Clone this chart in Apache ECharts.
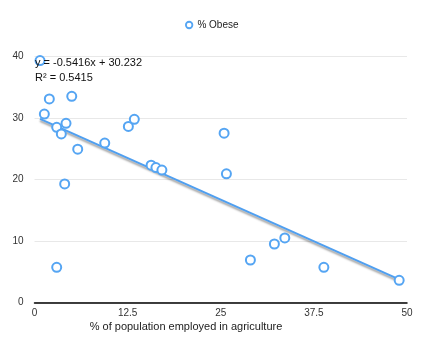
<!DOCTYPE html>
<html>
<head>
<meta charset="utf-8">
<script src="https://cdn.jsdelivr.net/npm/echarts@6/dist/echarts.min.js"></script>
<style>
html,body{margin:0;padding:0;background:#fff;}
#chart{width:429px;height:353px;}
</style>
</head>
<body>
<div id="chart"></div>
<script>
// Data
const agriculturePct = [0.74, 1.99, 5.0, 1.32, 2.98, 3.6, 4.23, 5.8, 4.05, 2.98, 9.43, 12.6, 13.4, 15.65, 16.3, 17.1, 25.45, 25.76, 28.98, 32.2, 33.6, 38.84, 48.95];
const obesePct      = [39.3, 33.06, 33.5, 30.6, 28.45, 27.37, 29.1, 24.9, 19.24, 5.69, 25.9, 28.6, 29.75, 22.3, 21.9, 21.5, 27.5, 20.9, 6.88, 9.48, 10.46, 5.69, 3.58];
const seriesName = '% Obese';
const xTicks = [0, 12.5, 25, 37.5, 50];
const yTicks = [0, 10, 20, 30, 40];
const trendSlope = [-0.5416];
const trendIntercept = [30.232];
const rSquared = [0.5415];
const xAxisTitle = '% of population employed in agriculture';

const points = agriculturePct.map((x, i) => [x, obesePct[i]]);
const xMin = Math.min(...agriculturePct), xMax = Math.max(...agriculturePct);
const trend = [xMin, xMax].map(x => [x, trendSlope[0] * x + trendIntercept[0]]);

const blue = '#55a5f3';
const font = 'Liberation Sans, Arial, sans-serif';
const chart = echarts.init(document.getElementById('chart'), null, {renderer: 'canvas'});
chart.setOption({
  animation: false,
  backgroundColor: '#fff',
  textStyle: {fontFamily: font},
  grid: {left: 34.5, right: 22, top: 56.3, bottom: 50.7, containLabel: false},
  legend: {
    data: [seriesName],
    top: 15, left: 180,
    icon: 'circle', itemWidth: 6.5, itemHeight: 6.5, itemGap: 5,
    itemStyle: {color: '#fff', borderColor: blue, borderWidth: 1.8},
    textStyle: {fontSize: 10, color: '#222', fontFamily: font}
  },
  xAxis: {
    type: 'value', min: xTicks[0], max: xTicks[xTicks.length - 1], interval: xTicks[1] - xTicks[0],
    axisLine: {show: true, lineStyle: {color: '#000', width: 1.5}},
    axisTick: {show: false},
    splitLine: {show: false},
    axisLabel: {fontSize: 10, color: '#333', margin: 6}
  },
  yAxis: {
    type: 'value', min: yTicks[0], max: yTicks[yTicks.length - 1], interval: yTicks[1] - yTicks[0],
    axisLine: {show: false},
    axisTick: {show: false},
    splitLine: {show: true, lineStyle: {color: '#e8e8e8', width: 1}},
    axisLabel: {fontSize: 10, color: '#333', margin: 11}
  },
  graphic: [
    {type: 'text', left: 35, top: 57, z: 100,
     style: {text: 'y = ' + trendSlope[0] + 'x + ' + trendIntercept[0], fontSize: 11, fill: '#111', fontFamily: font}},
    {type: 'text', left: 35, top: 72.5, z: 100,
     style: {text: 'R² = ' + rSquared[0], fontSize: 11, fill: '#111', fontFamily: font}},
    {type: 'text', x: 186, y: 326.5, z: 100,
     style: {text: xAxisTitle, fontSize: 11, fill: '#222', align: 'center', verticalAlign: 'middle', fontFamily: font}}
  ],
  series: [
    {
      name: 'trend', type: 'line', data: trend, symbol: 'none', z: 2,
      lineStyle: {color: '#4f9ff0', width: 2, shadowColor: 'rgba(0,0,0,0.4)', shadowBlur: 2, shadowOffsetY: 2},
      silent: true
    },
    {
      name: seriesName, type: 'scatter', data: points, symbol: 'circle', symbolSize: 9, z: 3,
      itemStyle: {color: '#fff', borderColor: blue, borderWidth: 2, opacity: 1}
    }
  ]
});
</script>
</body>
</html>
